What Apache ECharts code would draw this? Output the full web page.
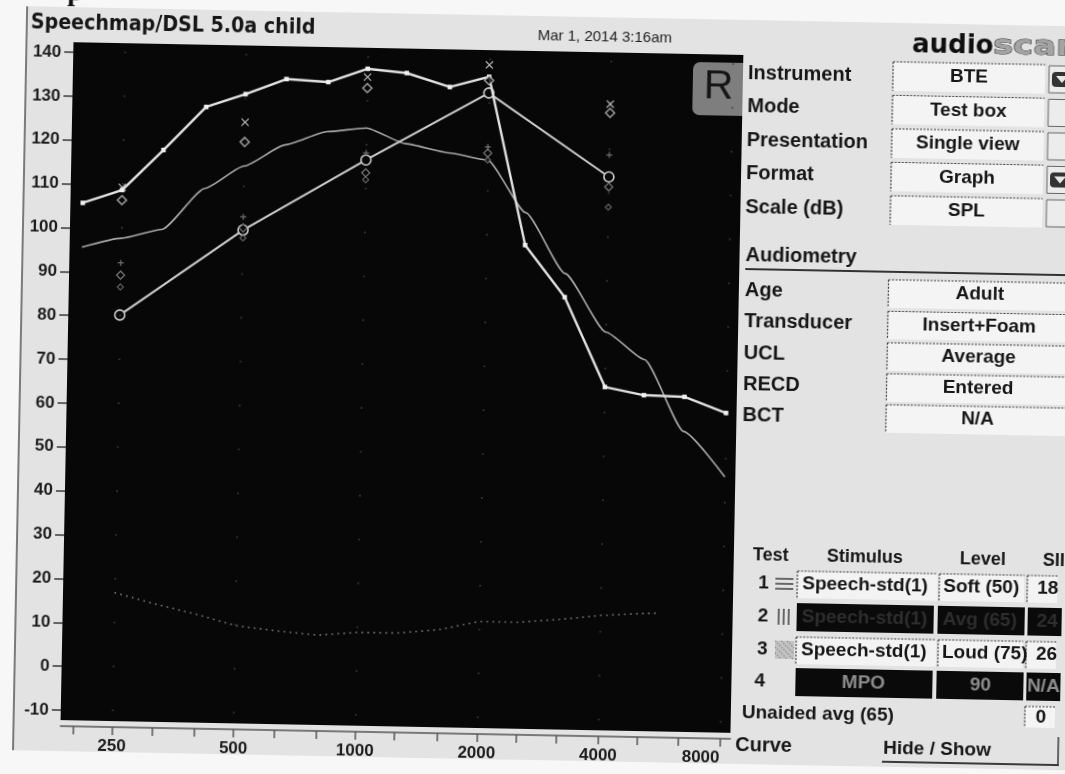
<!DOCTYPE html>
<html>
<head>
<meta charset="utf-8">
<title>Speechmap/DSL 5.0a child</title>
<script src="https://cdn.jsdelivr.net/npm/echarts@6.0.0/dist/echarts.min.js"></script>
<style>
  html, body { margin: 0; padding: 0; width: 1065px; height: 774px; overflow: hidden; background: #f7f7f7; }
  /* the printed screen sits slightly askew on the page */
  #sheet { position: absolute; left: 0; top: 0; width: 1100px; height: 800px;
           transform: rotate(1.09deg); transform-origin: 532px 387px; }
  #panel { position: absolute; left: 20px; top: 16px; width: 1080px; height: 744px; background: #e3e3e3; }
  #chart { position: absolute; left: 0; top: 0; width: 1100px; height: 800px; }
</style>
</head>
<body>
<div id="sheet"><div id="panel"></div><div id="chart"></div></div>
<script>
// ---- measurement data (dB SPL) ----
// third-octave analysis frequencies, Hz
const freqs = [200, 250, 315, 400, 500, 630, 800, 1000, 1250, 1600, 2000, 2500, 3150, 4000, 5000, 6300, 8000];
// test 4: MPO (90) output
const mpoCurve = [105.7, 108.8, 118.1, 128.1, 131.2, 134.8, 134.3, 137.5, 136.7, 133.7, 136.2, 98, 86.3, 66, 64.3, 64.1, 60.6];
// test 2: average speech (65) long-term average
const avgSpeech = [95.6, 97.8, 100, 109.5, 114.8, 119.8, 123, 124, 120.6, 118.7, 117.2, 105.4, 91.7, 78.5, 72.4, 56.2, 46];
// audiometric frequencies
const octFreqs = [250, 500, 1000, 2000, 4000];
const thresholds = [80.3, 100.2, 116.7, 132.5, 113.9];
const uclMarks = [109.4, 124.8, 135.6, 138.9, 130.5];
const mpoTargets = [106.5, 120.3, 133.1, 135.4, 128.5];
const loudTargets = [92.2, 103.2, 118.3, 120.2, 118.9];
const avgTargets = [89.4, 100.7, 113.8, 118.8, 111.6];
const softTargets = [86.7, 98.4, 112.2, 117.2, 107];
// normal-hearing threshold
const normalFreqs = [250, 315, 400, 500, 630, 800, 1000, 1250, 1600, 2000, 2500, 3150, 4000, 5000, 5600];
const normalCurve = [17, 14.6, 12.4, 10, 9, 8.2, 9, 9, 10, 12, 12, 12.8, 13.9, 14.5, 14.7];
// axis ticks
const yTicks = [-10, 0, 10, 20, 30, 40, 50, 60, 70, 80, 90, 100, 110, 120, 130, 140];
const xLabelFreqs = [250, 500, 1000, 2000, 4000, 8000];

// ---- side panel text ----
const setupLabels = ['Instrument', 'Mode', 'Presentation', 'Format', 'Scale (dB)'];
const setupValues = ['BTE', 'Test box', 'Single view', 'Graph', 'SPL'];
const audioLabels = ['Age', 'Transducer', 'UCL', 'RECD', 'BCT'];
const audioValues = ['Adult', 'Insert+Foam', 'Average', 'Entered', 'N/A'];
const testNums = ['1', '2', '3', '4'];
const testStimuli = ['Speech-std(1)', 'Speech-std(1)', 'Speech-std(1)', 'MPO'];
const testLevels = ['Soft (50)', 'Avg (65)', 'Loud (75)', '90'];
const testSii = ['18', '24', '26', 'N/A'];

// frequency axis is linear in octaves above 250 Hz
const oct = f => Math.log2(f / 250);
const X_MIN = -0.4235, X_MAX = 5.0864;
const Y_MIN = -12.28, Y_MAX = 142.28;

const SANS = '"Liberation Sans", Arial, sans-serif';
const G = [];
function text(x, y, s, style, extra) {
  const st = Object.assign({ text: s, fill: '#161616', font: 'bold 19px ' + SANS,
    align: 'left', verticalAlign: 'middle', textAlign: 'left', textVerticalAlign: 'middle' }, style || {});
  if (st.align) st.textAlign = st.align;
  G.push(Object.assign({ type: 'text', x: x, y: y, z: 10, silent: true, style: st }, extra || {}));
}
function rect(x, y, w, h, style, r, z) {
  G.push({ type: 'rect', z: z || 4, silent: true, shape: { x: x, y: y, width: w, height: h, r: r || 0 }, style: style });
}
function line(x1, y1, x2, y2, stroke, width, dash) {
  G.push({ type: 'line', z: 6, silent: true, shape: { x1: x1, y1: y1, x2: x2, y2: y2 },
           style: { stroke: stroke, lineWidth: width, lineDash: dash || null } });
}
function dashedBox(x, y, w, h, fill) {
  rect(x, y, w, h, { fill: fill });
  line(x, y, x + w, y, '#3c3c3c', 1.2, [2, 1.5]);
  line(x, y, x, y + h, '#3c3c3c', 1.2, [2, 1.5]);
}

// page frame and heading
line(20, 16, 20, 760, '#555', 1.5);
text(60, 2, 'p', { font: 'bold 28px "Liberation Serif", serif', fill: '#111' });
text(24, 32.5, 'Speechmap/DSL 5.0a child', { font: 'bold 20.5px "DejaVu Sans", sans-serif', fill: '#161616' },
     { scaleX: 0.93 });
text(531, 35.5, 'Mar 1, 2014 3:16am', { font: '15px ' + SANS, fill: '#1e1e1e' });

// ear indicator
rect(687, 59, 50, 53, { fill: '#7e7e7e' }, [7, 0, 0, 7], 3);
text(712.8, 83.5, 'R', { font: '41px ' + SANS, align: 'center', fill: '#151515' });

// logo
text(905.5, 38, 'audio', { font: 'bold 26px "DejaVu Sans", sans-serif', fill: '#0e0e0e' });
text(986.5, 38, 'scan', { font: 'bold 26px "DejaVu Sans", sans-serif', fill: '#a4a4a4', stroke: '#2a2a2a', lineWidth: 0.9 },
     { scaleX: 1.3 });

const LAB = { font: 'bold 20px ' + SANS };
// set-up section
setupLabels.forEach((lab, i) => {
  const y = 69 + i * 33.5;
  text(742, y, lab, LAB);
  dashedBox(887, y - 14, 152, 29, '#f4f4f4');
  text(963, y, setupValues[i], { align: 'center' });
  rect(1043, y - 13, 30, 27, { fill: '#ececec', stroke: '#666', lineWidth: 1 });
  if (i === 0 || i === 3) {
    rect(1046, y - 7, 20, 15, { fill: '#333' }, 4, 7);
    G.push({ type: 'polygon', z: 8, silent: true,
             shape: { points: [[1050, y - 3], [1062, y - 3], [1056, y + 4]] }, style: { fill: '#e8e8e8' } });
  }
});

// audiometry section
text(743, 251, 'Audiometry', LAB);
line(743, 265, 1085, 265, '#333', 2);
const audioY = [286, 317.5, 349, 380, 411];
audioLabels.forEach((lab, i) => {
  const y = audioY[i];
  text(743, y, lab, LAB);
  dashedBox(886.5, y - 13, 200, 28, '#f4f4f4');
  text(978, y, audioValues[i], { align: 'center' });
});

// test table
const hdr = { font: 'bold 18px ' + SANS };
text(756, 551, 'Test', hdr);
text(830, 551, 'Stimulus', hdr);
text(963, 551, 'Level', hdr);
text(1046, 551, 'SII', hdr);
const rowY = [579, 612, 645, 677];
testNums.forEach((n, i) => {
  const y = rowY[i];
  text(i === 3 ? 760 : 762, y, n);
  if (i === 0 || i === 2) {
    dashedBox(801, y - 13, 140, 27, '#f3f3f3');
    dashedBox(943, y - 13, 85, 27, '#f3f3f3');
    dashedBox(1031, y - 13, 30, 27, '#f3f3f3');
    text(806, y, testStimuli[i]);
    text(947, y, testLevels[i]);
    text(1041, y, testSii[i]);
  } else {
    rect(801, y - 14, 137, 28, { fill: '#0a0a0a' });
    rect(942, y - 14, 87, 28, { fill: '#0a0a0a' });
    rect(1032, y - 14, 34, 28, { fill: '#0a0a0a' });
    if (i === 1) {
      const c = { fill: '#2e2e2e' };
      text(806, y, testStimuli[i], c);
      text(947, y, testLevels[i], c);
      text(1041, y, testSii[i], c);
    } else {
      const c = { fill: '#8d8d8d', align: 'center' };
      text(869, y, testStimuli[i], c);
      text(986, y, testLevels[i], c);
      text(1049, y, testSii[i], c);
    }
  }
});
// curve style swatches
[574, 579, 584].forEach(y => line(779, y, 797, y, '#333', 1.4));
[783, 788, 793].forEach(x => line(x, 604, x, 620, '#333', 1.4));
rect(780, 636, 19, 18, { fill: '#c2c2c2' });
[[780, 648, 786, 654], [780, 642, 792, 654], [780, 636, 798, 654], [786, 636, 799, 649], [792, 636, 799, 643]]
  .forEach(p => line(p[0], p[1], p[2], p[3], '#8a8a8a', 1.2, [1.5, 1.5]));

text(748, 709, 'Unaided avg (65)', { font: 'bold 19px ' + SANS });
dashedBox(1031, 697, 30, 21, '#f4f4f4');
text(1047, 708, '0', { align: 'center' });

text(742, 741, 'Curve', LAB);
line(889, 755, 1066, 755, '#3a3a3a', 2);
line(1065, 727, 1065, 755, '#3a3a3a', 1.5);
text(890, 742, 'Hide / Show');

const pairs = (fs, vs) => fs.map((f, i) => [oct(f), vs[i]]);
const SYM_X = 'path://M0,1L1,0L5,4L9,0L10,1L6,5L10,9L9,10L5,6L1,10L0,9L4,5Z';
const SYM_PLUS = 'path://M4,0H6V4H10V6H6V10H4V6H0V4H4Z';

const option = {
  animation: false,
  backgroundColor: 'transparent',
  grid: { left: 67, top: 51, width: 670, height: 678, show: true, backgroundColor: '#070707', borderWidth: 0 },
  xAxis: {
    type: 'value', min: X_MIN, max: X_MAX, offset: 6,
    axisLine: { show: true, onZero: false, lineStyle: { color: '#555', width: 1.5 } },
    axisTick: { show: true, length: 8, customValues: freqs.map(oct), lineStyle: { color: '#555', width: 1.5 } },
    axisLabel: {
      customValues: xLabelFreqs.map(oct), margin: 11, alignMaxLabel: 'right',
      formatter: v => String(Math.round(250 * Math.pow(2, v))),
      color: '#1c1c1c', fontFamily: SANS, fontWeight: 'bold', fontSize: 17
    },
    splitLine: { show: false }
  },
  yAxis: {
    type: 'value', min: Y_MIN, max: Y_MAX,
    axisLine: { show: false, onZero: false },
    axisTick: { show: true, length: 9, customValues: yTicks, lineStyle: { color: '#3a3a3a', width: 1.5 } },
    axisLabel: { customValues: yTicks, margin: 12, color: '#1c1c1c', fontFamily: SANS, fontWeight: 'bold', fontSize: 17 },
    splitLine: { show: false }
  },
  graphic: { elements: G },
  series: [
    {
      name: 'Normal hearing', type: 'line', silent: true, z: 2,
      data: pairs(normalFreqs, normalCurve), showSymbol: false,
      lineStyle: { color: '#7a7a7a', width: 1.6, type: [1.6, 4.4] },
      markLine: {
        silent: true, symbol: 'none', label: { show: false },
        lineStyle: { color: '#3d3d3d', width: 1.6, type: [1.6, 42.27], dashOffset: 33.9 },
        data: xLabelFreqs.map(f => ({ xAxis: oct(f) }))
      }
    },
    {
      name: 'Speech avg (65)', type: 'line', silent: true, z: 3,
      data: pairs(freqs, avgSpeech), showSymbol: false, smooth: 0.18, smoothMonotone: 'x',
      lineStyle: { color: '#a9a9a9', width: 1.6 }
    },
    {
      name: 'Threshold', type: 'line', silent: true, z: 4,
      data: pairs(octFreqs, thresholds), symbol: 'circle', symbolSize: 10, showSymbol: true,
      lineStyle: { color: '#cdcdcd', width: 2 },
      itemStyle: { color: '#070707', borderColor: '#cdcdcd', borderWidth: 1.6 }
    },
    {
      name: 'MPO (90)', type: 'line', silent: true, z: 5,
      data: pairs(freqs, mpoCurve), symbol: 'rect', symbolSize: 4.5, showSymbol: true, showAllSymbol: true,
      lineStyle: { color: '#e2e2e2', width: 2.4 },
      itemStyle: { color: '#f2f2f2' }
    },
    {
      name: 'UCL', type: 'scatter', silent: true, z: 6,
      data: pairs(octFreqs, uclMarks), symbol: SYM_X, symbolSize: 8,
      itemStyle: { color: '#ececec' }
    },
    {
      name: 'MPO target', type: 'scatter', silent: true, z: 6,
      data: pairs(octFreqs, mpoTargets), symbol: 'diamond', symbolSize: 9,
      itemStyle: { color: '#070707', borderColor: '#c4c4c4', borderWidth: 1.5 }
    },
    {
      name: 'Loud target', type: 'scatter', silent: true, z: 6,
      data: pairs(octFreqs, loudTargets), symbol: SYM_PLUS, symbolSize: 6,
      itemStyle: { color: '#8a8a8a' }
    },
    {
      name: 'Avg target', type: 'scatter', silent: true, z: 6,
      data: pairs(octFreqs, avgTargets), symbol: 'diamond', symbolSize: 8,
      itemStyle: { color: '#070707', borderColor: '#8c8c8c', borderWidth: 1.3 }
    },
    {
      name: 'Soft target', type: 'scatter', silent: true, z: 6,
      data: pairs(octFreqs, softTargets), symbol: 'diamond', symbolSize: 6,
      itemStyle: { color: '#070707', borderColor: '#7a7a7a', borderWidth: 1.2 }
    }
  ]
};

const chart = echarts.init(document.getElementById('chart'), null, { renderer: 'canvas', width: 1100, height: 800 });
chart.setOption(option);
</script>
</body>
</html>
